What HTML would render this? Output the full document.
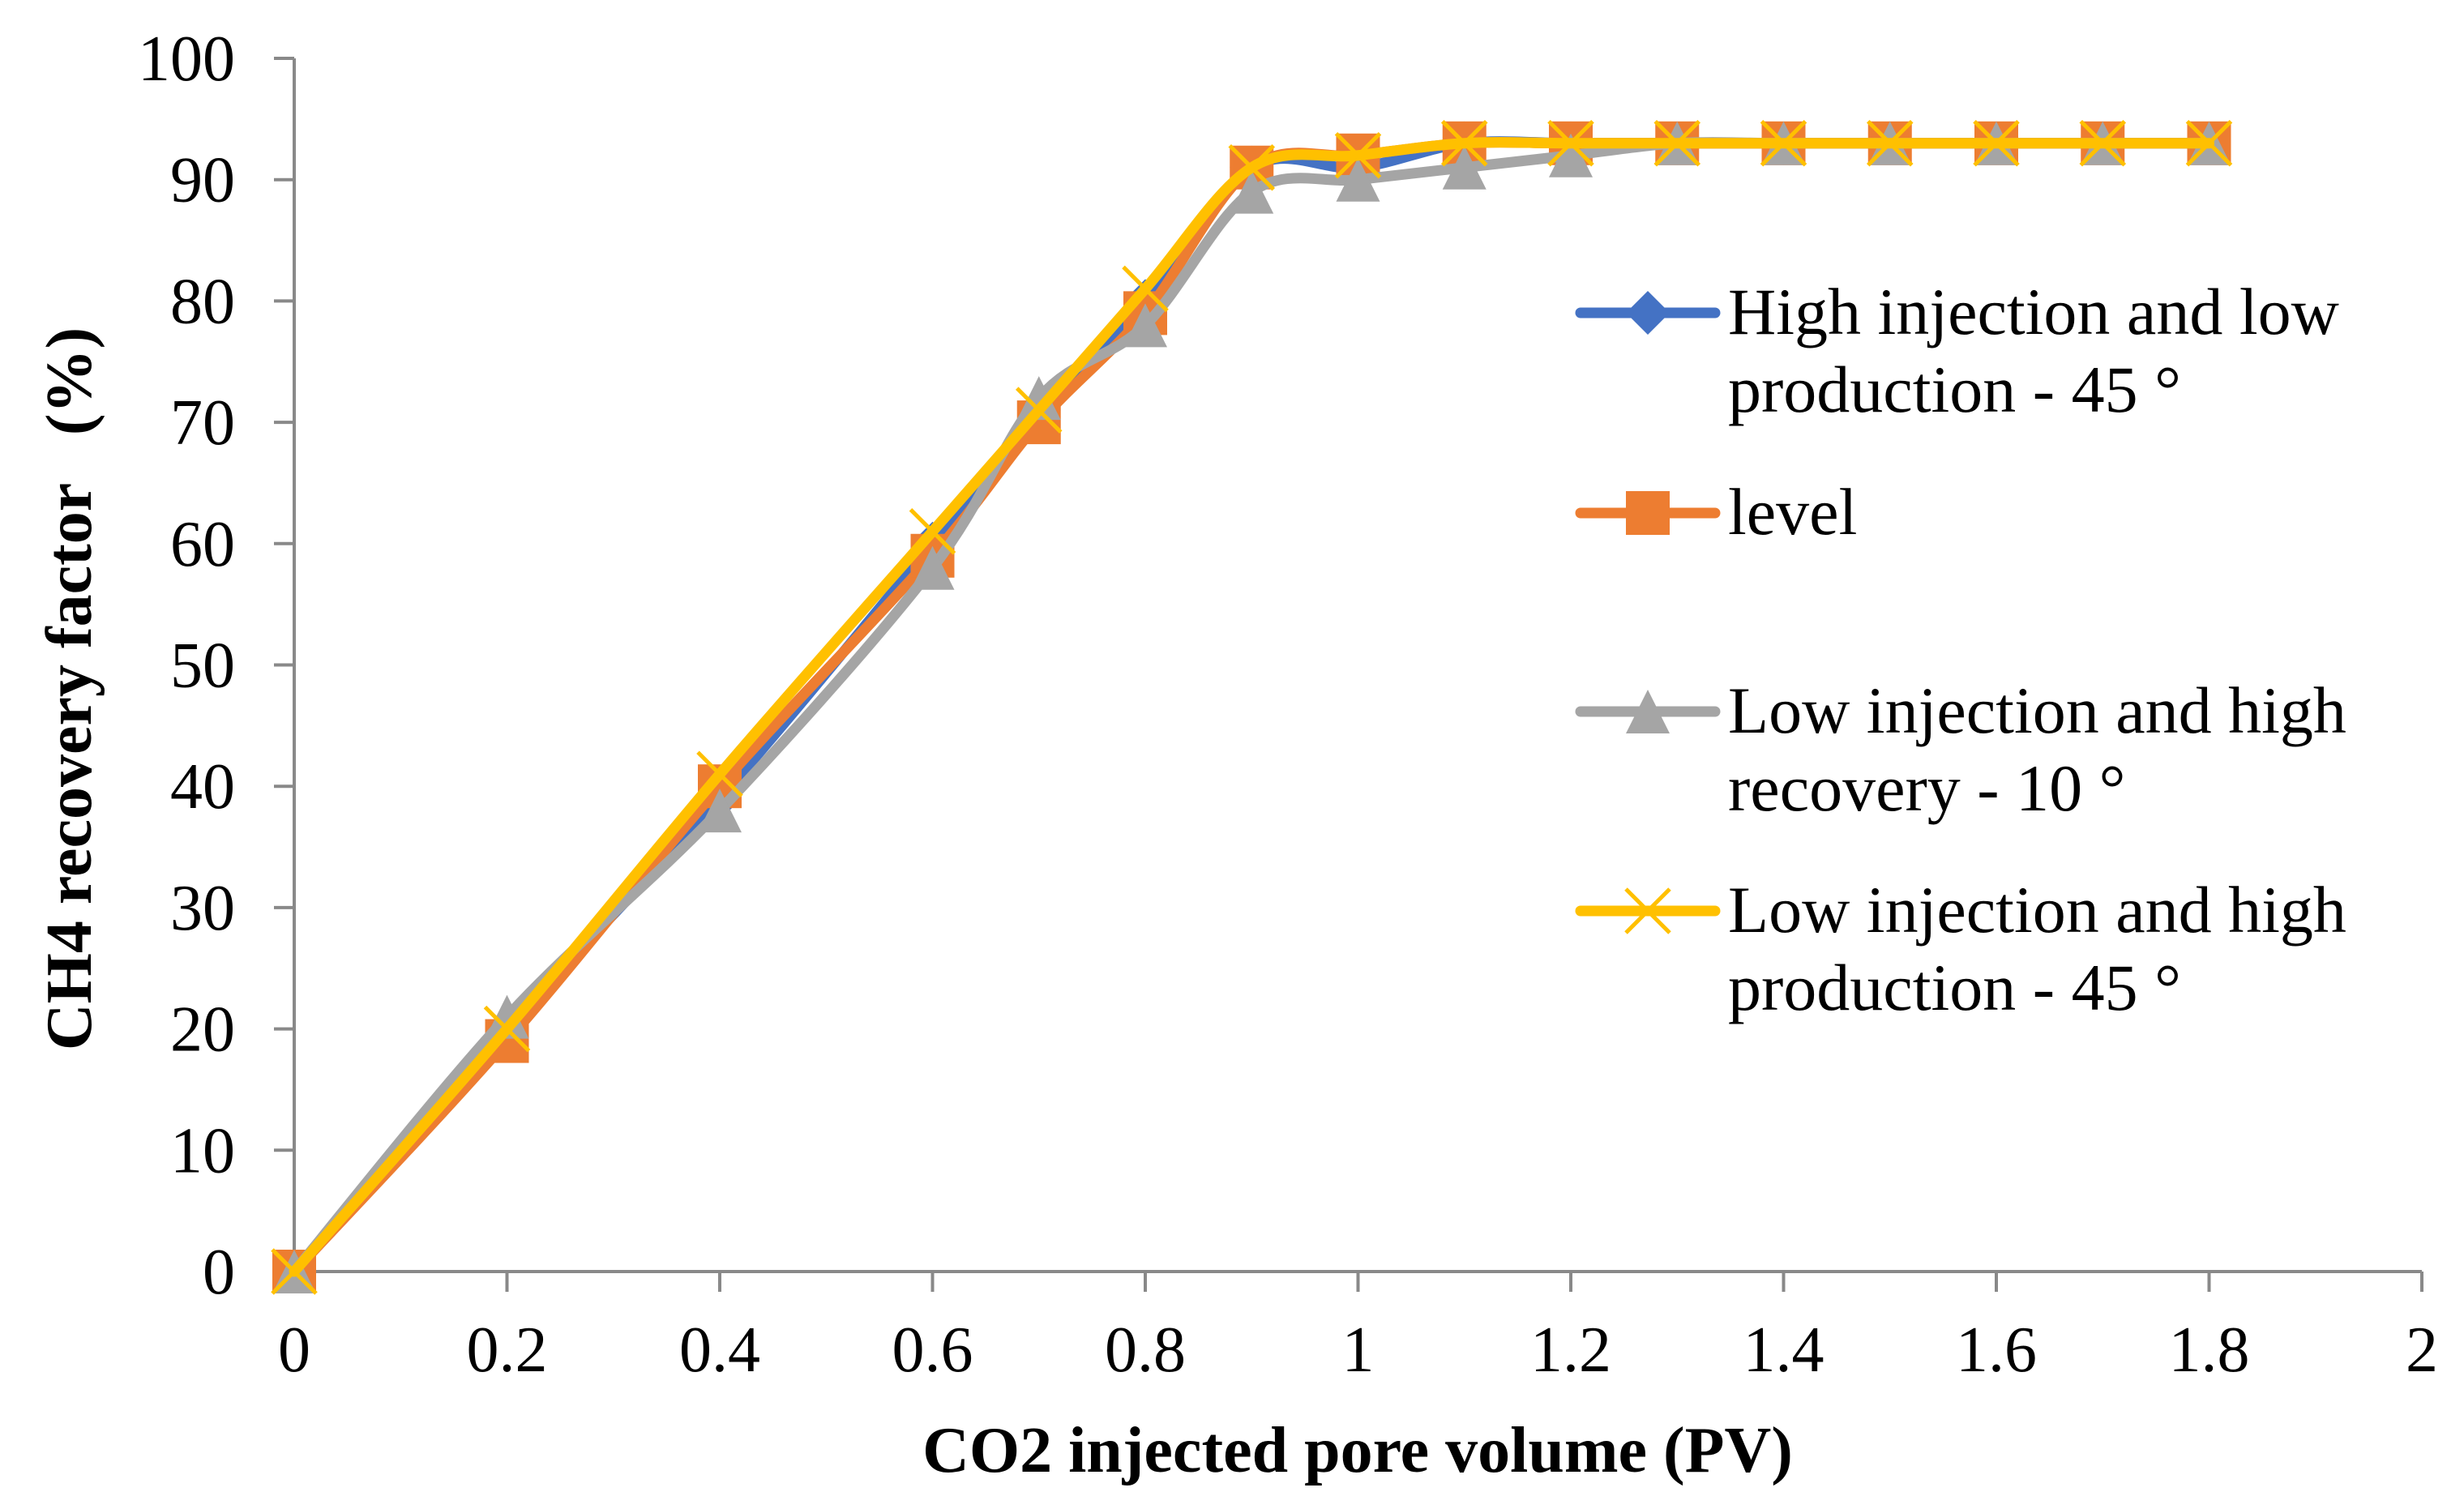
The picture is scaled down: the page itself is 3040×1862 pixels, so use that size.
<!DOCTYPE html>
<html><head><meta charset="utf-8"><style>
html,body{margin:0;padding:0;background:#fff;}
svg{display:block;font-family:"Liberation Serif",serif;}
</style></head><body>
<svg id="chart" width="3040" height="1862" viewBox="0 0 3040 1862" xmlns="http://www.w3.org/2000/svg">
<rect width="3040" height="1862" fill="#fff"/>
<g id="axes"></g><g id="series"></g><g id="legend"></g>
<text x="1675" y="1816" font-size="80" font-weight="bold" text-anchor="middle">CO2 injected pore volume (PV)</text>
<text transform="translate(112,850) rotate(-90)" font-size="80" font-weight="bold" text-anchor="middle" xml:space="preserve">CH4 recovery factor   (%)</text>
</svg>
<script>
const xValues=[0,0.2,0.4,0.6,0.7,0.8,0.9,1,1.1,1.2,1.3,1.4,1.5,1.6,1.7,1.8];
const seriesBlue=[0,20,39,60,71,80,91,91,93,93,93,93,93,93,93,93];
const seriesOrange=[0,19,40,59,70,79,91,92,93,93,93,93,93,93,93,93];
const seriesGray=[0,21,38,58,72,78,89,90,91,92,93,93,93,93,93,93];
const seriesYellow=[0,20,41,61,71,81,91,92,93,93,93,93,93,93,93,93];
const seriesNames=["High injection and low|production - 45 °","level","Low injection and high|recovery - 10 °","Low injection and high|production - 45 °"];
const xTicks=[0,0.2,0.4,0.6,0.8,1,1.2,1.4,1.6,1.8,2];
const xTickLabels=["0","0.2","0.4","0.6","0.8","1","1.2","1.4","1.6","1.8","2"];
const yTicks=[0,10,20,30,40,50,60,70,80,90,100];

const NS="http://www.w3.org/2000/svg";
const X=v=>363+v*(2988-363)/2;
const Y=v=>1569-v*(1569-72)/100;
function mk(tag,attrs,parent){const e=document.createElementNS(NS,tag);for(const k in attrs)e.setAttribute(k,attrs[k]);parent.appendChild(e);return e;}
const axes=document.getElementById('axes');
const ax=mk('line',{x1:X(0),y1:Y(0),x2:X(2),y2:Y(0),stroke:'#898989','stroke-width':4},axes);


const ay=mk('line',{x1:X(0),y1:Y(0),x2:X(0),y2:Y(100),stroke:'#898989','stroke-width':4},axes);


xTicks.forEach((t,i)=>{
  mk('line',{x1:X(t),y1:Y(0),x2:X(t),y2:Y(0)+25,stroke:'#898989','stroke-width':4},axes);
  const tx=mk('text',{x:X(t),y:1692,'font-size':80,'text-anchor':'middle'},axes);
  tx.textContent=xTickLabels[i];
  
  
});
yTicks.forEach(t=>{
  mk('line',{x1:X(0)-25,y1:Y(t),x2:X(0),y2:Y(t),stroke:'#898989','stroke-width':4},axes);
  const tx=mk('text',{x:290,y:Y(t)+27,'font-size':80,'text-anchor':'end'},axes);
  tx.textContent=String(t);
  
  
});
function smooth(pts){
  let d=`M${pts[0][0]},${pts[0][1]}`;
  for(let i=0;i<pts.length-1;i++){
    const p0=pts[i-1]||pts[i],p1=pts[i],p2=pts[i+1],p3=pts[i+2]||p2;
    const t=1/6;
    d+=` C${p1[0]+(p2[0]-p0[0])*t},${p1[1]+(p2[1]-p0[1])*t} ${p2[0]-(p3[0]-p1[0])*t},${p2[1]-(p3[1]-p1[1])*t} ${p2[0]},${p2[1]}`;
  }
  return d;
}
function marker(type,cx,cy,color,parent){
  const s=27;
  if(type==='diamond') return mk('polygon',{points:`${cx},${cy-s} ${cx+s},${cy} ${cx},${cy+s} ${cx-s},${cy}`,fill:color},parent);
  if(type==='square') return mk('rect',{x:cx-s,y:cy-s,width:2*s,height:2*s,fill:color},parent);
  if(type==='triangle') return mk('polygon',{points:`${cx},${cy-s} ${cx+s},${cy+s} ${cx-s},${cy+s}`,fill:color},parent);
  return mk('path',{d:`M${cx-s},${cy-s}L${cx+s},${cy+s}M${cx-s},${cy+s}L${cx+s},${cy-s}`,stroke:color,'stroke-width':5,fill:'none'},parent);
}
const defs=[
 {vals:seriesBlue,color:'#4472C4',m:'diamond',n:'blue'},
 {vals:seriesOrange,color:'#ED7D31',m:'square',n:'orange'},
 {vals:seriesGray,color:'#A5A5A5',m:'triangle',n:'gray'},
 {vals:seriesYellow,color:'#FFC000',m:'x',n:'yellow'}
];
const sg=document.getElementById('series');
defs.forEach(s=>{
  const g=mk('g',{},sg);
  
  
  const pts=xValues.map((x,i)=>[X(x),Y(s.vals[i])]);
  const p=mk('path',{d:smooth(pts),fill:'none',stroke:s.color,'stroke-width':13,'stroke-linejoin':'round','stroke-linecap':'round'},g);
  
  
  pts.forEach(pt=>{
    const m=marker(s.m,pt[0],pt[1],s.color,g);
    
    
  });
});
const lg=document.getElementById('legend');
const legendY=[386,633,878,1124];
defs.forEach((s,i)=>{
  const g=mk('g',{},lg);
  
  
  const y=legendY[i];
  mk('line',{x1:1950,y1:y,x2:2116,y2:y,stroke:s.color,'stroke-width':13,'stroke-linecap':'round'},g);
  marker(s.m,2033,y,s.color,g);
  seriesNames[i].split('|').forEach((ln,j)=>{
    const t=mk('text',{x:2132,y:y+26+j*96,'font-size':82},g);
    t.textContent=ln;
  });
});
</script>
</body></html>
